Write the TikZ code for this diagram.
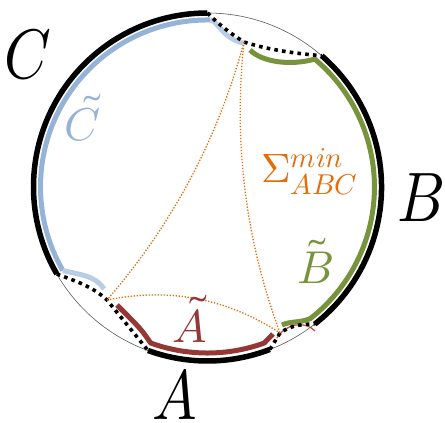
\documentclass[tikz,border=0pt]{standalone}
\usepackage{amsmath}
\usepackage{unicode-math}
\setmathfont{Latin Modern Math}
\definecolor{cblue}{RGB}{149,179,215}
\definecolor{clblue}{RGB}{185,205,229}
\definecolor{cgreen}{RGB}{119,147,60}
\definecolor{cred}{RGB}{149,55,53}
\definecolor{cthinred}{RGB}{200,80,77}
\definecolor{corange}{RGB}{228,108,10}
\begin{document}
\begin{tikzpicture}[x=1pt,y=-1pt,
  rim/.style={line width=5.5pt, black},
  band/.style={line width=5pt},
  sepline/.style={black, line width=3.6pt, dash pattern=on 3.6pt off 4.2pt},
  geo/.style={corange, line width=1.3pt, dash pattern=on 1.3pt off 1.7pt},
  biglab/.style={inner sep=0pt, font=\fontsize{70}{70}\selectfont},
  lab/.style={inner sep=0pt, anchor=base, font=\fontsize{46}{46}\selectfont}]
\useasboundingbox (0,0) rectangle (445,423);
\coordinate (O) at (207.5,187);
% vertices
\coordinate (P1) at (244,42);
\coordinate (P2) at (107,300);
\coordinate (P3) at (280,333);
% ends of the black arcs
\coordinate (Ct) at (207.5,13);
\coordinate (Cb) at (56.8,274);
\coordinate (Bt) at (321.7,55.7);
\coordinate (Bb) at (314.6,324.1);
\coordinate (Al) at (148,350.5);
\coordinate (Ar) at (269.9,349.4);
% thin circle
\draw[black!65, line width=0.6pt] (O) circle[radius=174];
% black boundary arcs
\draw[rim] (Ct) arc[start angle=-90, end angle=-210, radius=174];
\draw[rim] (Bt) arc[start angle=-49, end angle=52, radius=174];
\draw[rim] (Al) arc[start angle=110, end angle=69, radius=174];
% coloured regions
\draw[band, cblue] (210.4,20) arc[start angle=-89, end angle=-210, radius=167];
\draw[band, clblue] (210.4,20) .. controls (218,21) and (222,38) .. (243,43);
\draw[band, clblue] (62.9,270.5) .. controls (80,275) and (95,275) .. (104,289);
\draw[band, cgreen] (250,50) .. controls (262,62) and (290,66) .. (314.8,59.1)
  arc[start angle=-50, end angle=52, radius=167]
  .. controls (300,323) and (290,321) .. (282,325);
\draw[band, cred] (117,305) .. controls (141,329) .. (150.7,343)
  arc[start angle=110, end angle=70, radius=166] -- (273,334);
\draw[cthinred, line width=1.3pt] (277,338) .. controls (285,324) and (305,320) .. (315,331);
% black dotted separators
\draw[sepline] (Ct) .. controls (217.2,23) and (229.3,32.7) .. (P1)
  .. controls (264.7,48.7) and (290.6,53.2) .. (Bt);
\draw[sepline] (Cb) .. controls (75,281) and (92,286) .. (P2) -- (Al);
\draw[sepline] (Ar) -- (P3) .. controls (290,326) and (300,324) .. (Bb);
% orange minimal surface
\draw[geo] (P1) .. controls (218,138.7) and (172.3,224.7) .. (P2);
\draw[geo] (P1) .. controls (233.3,142) and (245.3,239) .. (P3);
\draw[geo] (P2) .. controls (169,287.3) and (226.7,298.3) .. (P3);
% labels
\node[biglab] (lC) at (28,55) {\scalebox{0.85}[1]{$C$}};
\node[biglab] (lB) at (421,198) {\scalebox{0.85}[1]{$B$}};
\node[biglab] (lA) at (175,394) {\scalebox{0.85}[1]{$A$}};
\node[lab, text=cblue] (tC) at (83,140) {$\tilde{C}$};
\node[lab, text=cgreen] (tB) at (316,283) {$\tilde{B}$};
\node[lab, text=cred] (tA) at (190,342) {$\tilde{A}$};
\node[inner sep=0pt, anchor=base west, text=corange, font=\fontsize{41}{41}\selectfont] (S) at (261,182) {$\Sigma^{min}_{ABC}$};
\end{tikzpicture}
\end{document}
